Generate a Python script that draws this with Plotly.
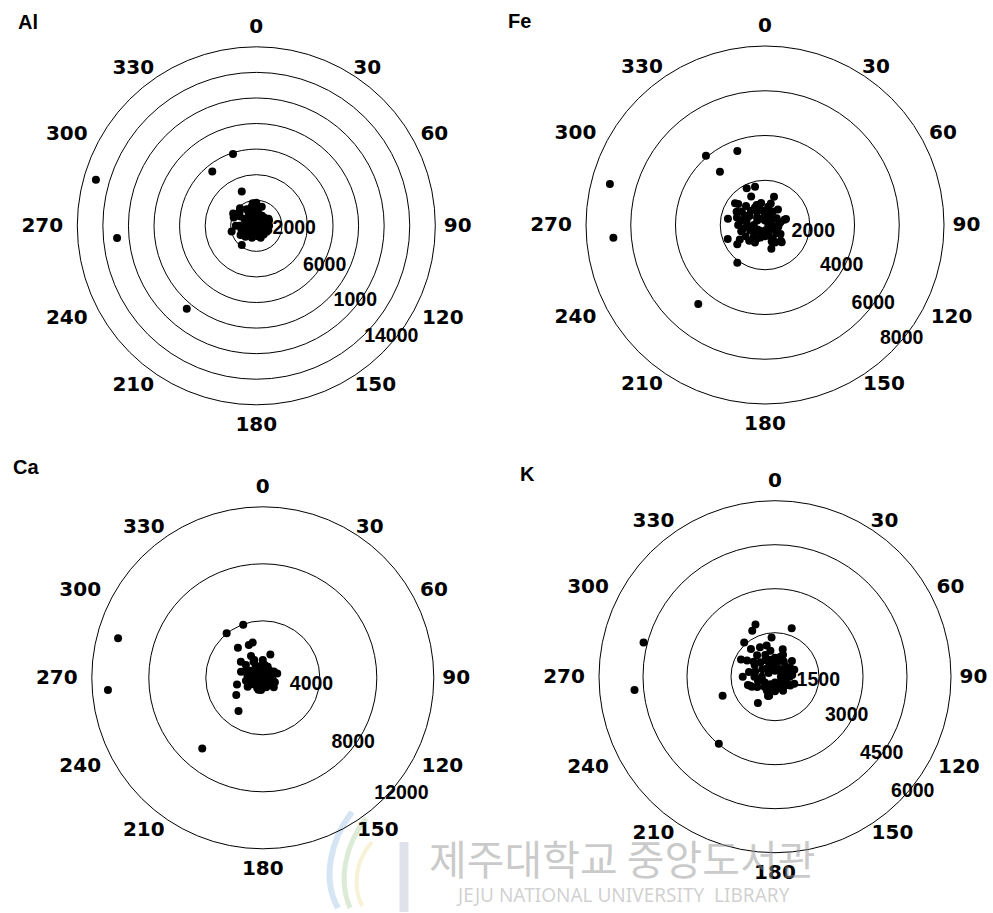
import math
import plotly.graph_objects as go

# ---- data: wind direction (deg) and concentration for each element ----
al_dir = [342, 321, 286, 265, 220, 337, 217,
          298, 257, 240, 67, 120, 351, 16, 317, 290, 330,
          0, 30, 60, 90, 120, 150, 180, 210, 240, 270, 300, 330, 350, 10, 315, 285,
          255, 200, 100, 75, 45, 20, 340, 300, 270, 230, 180, 140, 110, 60, 0, 345,
          280, 190, 120, 160, 90, 270, 310, 0,
          45, 135, 225, 315, 0, 90, 180, 270, 330, 300, 240, 210, 60, 150, 30, 350,
          285, 260, 225, 195, 120, 80]
al_conc = [5900, 5470, 13050, 10930, 8460, 2910, 1885,
           2050, 1980, 1420, 1080, 935, 1780, 1550, 1870, 1880, 1500,
           300, 500, 400, 300, 500, 600, 400, 600, 800, 900, 1100, 1200, 900, 1000, 600, 500,
           1200, 1000, 700, 800, 900, 700, 400, 1500, 1300, 900, 800, 900, 1000, 800, 1300, 1500,
           300, 200, 150, 1000, 1000, 1600, 1700, 1800,
           200, 200, 200, 300, 600, 600, 600, 600, 900, 800, 400, 300, 1100, 300, 900, 1200,
           800, 1000, 1200, 700, 800, 500]

fe_dir = [339.5, 319.6, 319.8, 284.8, 265.2, 220.2, 216.3, 136, 74, 17.6, 235.1, 249.4, 279.7, 333.5, 345.4,
          334, 306, 308, 295, 261, 180, 125, 97, 10, 337.5, 285, 249, 158,
          0, 45, 90, 135, 180, 225, 270, 315, 300, 330, 250, 200, 160, 110, 60, 20,
          350, 280, 240, 210, 150, 120, 80, 40, 315, 295, 265, 225, 190, 10, 340, 100,
          0, 60, 120, 180, 240, 300, 330, 270, 210, 150, 90, 30, 315, 255, 285, 345,
          15, 225, 165, 135, 75, 300, 270, 240]
fe_conc = [3530, 4070, 3120, 7170, 6800, 4620, 2090, 1075, 976, 1330, 1510, 1780, 1680, 1833, 1770,
           1412, 1655, 1520, 1400, 980, 450, 640, 600, 830, 970, 850, 635, 800,
           200, 400, 300, 300, 250, 350, 500, 500, 800, 700, 700, 600, 500, 450, 600, 500,
           1000, 1100, 1000, 900, 900, 800, 700, 900, 1200, 1000, 800, 700, 500, 700, 300, 150,
           500, 300, 400, 500, 400, 400, 900, 800, 700, 700, 600, 700, 900, 1100, 1300, 700,
           1000, 1000, 1100, 1000, 900, 1200, 1200, 1300]

ca_dir = [339.7, 321, 285.3, 265.5, 220.6, 216.3, 237, 255.5, 320.4, 337, 344, 18, 73, 131,
          331.6, 306, 188, 285.6, 307, 334.5, 0, 24, 102, 156, 261, 239.5,
          0, 45, 90, 135, 180, 225, 270, 315, 340, 20, 60, 110, 150, 200, 240, 290, 320,
          300, 250, 350, 10, 70, 160, 210, 280, 330,
          0, 90, 180, 270, 45, 135, 225, 315, 300, 330, 0, 60, 240, 200, 110, 30, 260, 290]
ca_conc = [3960, 4030, 10530, 10900, 6530, 2880, 2220, 1870, 2740, 2510, 2570, 1720, 1060, 1020,
           1743, 1905, 867, 1590, 1485, 1386, 1250, 853, 713, 554, 962, 1232,
           300, 350, 250, 300, 200, 300, 400, 450, 700, 600, 500, 500, 500, 500, 600, 800, 800,
           500, 300, 400, 900, 800, 700, 800, 1100, 1000,
           600, 500, 400, 700, 700, 600, 600, 750, 1000, 1300, 1000, 900, 900, 900, 900, 300, 1200, 1300]

k_dir = [284.6, 264.6, 220, 250, 213, 197, 339.5, 333.6, 19, 318, 355, 333, 319, 15.7, 47, 70, 84, 297,
         253, 246.5, 121, 160, 305, 336, 15, 256,
         0, 30, 60, 90, 120, 150, 180, 210, 240, 270, 300, 330, 315, 345, 285, 255, 225, 195,
         165, 135, 100, 75, 45, 15, 300, 0, 280, 320, 350, 20,
         0, 60, 120, 180, 240, 300, 330, 30, 90, 150, 210, 270, 315, 270, 250, 300, 345, 200, 110, 70]
k_conc = [4630, 4810, 2980, 1900, 1070, 680, 1900, 1745, 1750, 1570, 1338, 1129, 1250, 974, 790, 700, 590, 1300,
          966, 858, 547, 365, 890, 813, 708, 458,
          200, 300, 250, 200, 300, 250, 200, 300, 400, 450, 500, 400, 700, 600, 700, 600, 500, 400,
          400, 450, 400, 450, 500, 550, 250, 450, 900, 950, 900, 800,
          650, 600, 600, 500, 700, 800, 650, 600, 500, 550, 550, 700, 400, 1100, 900, 1100, 1100, 700, 700, 300]

# ring values and their printed labels
al_rings = [2000, 4000, 6000, 8000, 10000, 12000, 14000]
al_ring_labels = ["2000", "6000", "1000", "14000"]
fe_rings = [2000, 4000, 6000, 8000]
fe_ring_labels = ["2000", "4000", "6000", "8000"]
ca_rings = [4000, 8000, 12000]
ca_ring_labels = ["4000", "8000", "12000"]
k_rings = [1500, 3000, 4500, 6000]
k_ring_labels = ["1500", "3000", "4500", "6000"]

angle_ticks = list(range(0, 360, 30))
angle_labels = [str(a) for a in angle_ticks]

# ---- layout ----
W, H = 993, 913
PAD = 1.22  # radial headroom beyond the outer ring, room for the direction labels

# pixel offset of each direction label's centre from the outer ring
ANGLE_LABEL_OFFSET = {0: (0, -18.5), 30: (21.5, -2), 60: (23, -1), 90: (22.5, 1.5),
                      120: (31.5, 3.5), 150: (29.5, 5), 180: (0, 21), 210: (-33.5, 5),
                      240: (-34.5, 3.5), 270: (-35, 1.5), 300: (-34.5, -1), 330: (-33.5, -2)}


def domain(cx, cy, rad):
    rr = rad * PAD
    return dict(x=[(cx - rr) / W, (cx + rr) / W],
                y=[1 - (cy + rr) / H, 1 - (cy - rr) / H])


def label_polar(angle, rad, rmax):
    """Polar position (r, theta) of a direction label, ring radius rad px."""
    ox, oy = ANGLE_LABEL_OFFSET[angle]
    b = math.radians(angle)
    x = rad * math.sin(b) + ox
    y = -rad * math.cos(b) + oy
    return math.hypot(x, y) * rmax / rad, math.degrees(math.atan2(x, -y)) % 360


panels = [
    # name, dirs, concs, rings, ring labels, ring label spots (r, theta), ring px, title px
    ("Al", al_dir, al_conc, al_rings, al_ring_labels,
     [(2980, 94.5), (6220, 120.8), (9750, 127.4), (13700, 129.6)], (256.3, 225.8, 179), (28, 22)),
    ("Fe", fe_dir, fe_conc, fe_rings, fe_ring_labels,
     [(2180, 97.9), (3880, 118), (5990, 126.1), (7965, 129.9)], (765, 225, 179), (519, 21)),
    ("Ca", ca_dir, ca_conc, ca_rings, ca_ring_labels,
     [(3455, 98.5), (7840, 126), (12700, 130)], (262.8, 677.8, 171), (25.5, 467)),
    ("K", k_dir, k_conc, k_rings, k_ring_labels,
     [(1483, 95.3), (2795, 119), (4487, 125.8), (6131, 130)], (775, 676.7, 176), (527, 474)),
]

fig = go.Figure()
layout_polars = {}
annotations = []

for i, (name, dirs, concs, rings, labels, lab_pos, (cx, cy, rad), (tx, ty)) in enumerate(panels):
    key = "polar" if i == 0 else f"polar{i + 1}"
    rmax = rings[-1]
    fig.add_trace(go.Scatterpolar(
        r=concs, theta=dirs, mode="markers", subplot=key,
        marker=dict(color="black", size=8, line=dict(width=0)),
        showlegend=False, hoverinfo="skip"))
    # concentration labels beside the rings
    fig.add_trace(go.Scatterpolar(
        r=[p[0] for p in lab_pos], theta=[p[1] for p in lab_pos],
        text=labels, mode="text", subplot=key, cliponaxis=False,
        textfont=dict(family="Liberation Sans, Arial", size=19.5, color="black", weight="bold"),
        textposition="middle center", showlegend=False, hoverinfo="skip"))
    # direction labels around the outer ring
    spots = [label_polar(a, rad, rmax) for a in angle_ticks]
    fig.add_trace(go.Scatterpolar(
        r=[s[0] for s in spots], theta=[s[1] for s in spots],
        text=angle_labels, mode="text", subplot=key, cliponaxis=False,
        textfont=dict(family="DejaVu Sans", size=20, color="black", weight="bold"),
        textposition="middle center", showlegend=False, hoverinfo="skip"))
    layout_polars[key] = dict(
        domain=domain(cx, cy, rad),
        bgcolor="rgba(0,0,0,0)",
        angularaxis=dict(
            rotation=90, direction="clockwise",
            showticklabels=False, ticks="",
            showgrid=False, showline=False,
        ),
        radialaxis=dict(
            range=[0, rmax * PAD], tickmode="array", tickvals=rings,
            showticklabels=False, ticks="", showline=False,
            showgrid=True, gridcolor="black", gridwidth=1,
        ),
    )
    annotations.append(dict(
        text=name, x=tx / W, y=1 - ty / H, xref="paper", yref="paper",
        xanchor="center", yanchor="middle", showarrow=False,
        font=dict(family="Liberation Sans, Arial", size=20, color="black", weight="bold")))

# library watermark
annotations.append(dict(
    text="제주대학교 중앙도서관", x=622 / W, y=1 - 857 / H, xref="paper", yref="paper",
    xanchor="center", yanchor="middle", showarrow=False,
    font=dict(family="Noto Sans CJK KR", size=41, color="rgba(150,150,150,0.5)")))
annotations.append(dict(
    text="JEJU NATIONAL UNIVERSITY  LIBRARY", x=623 / W, y=1 - 895 / H,
    xref="paper", yref="paper", xanchor="center", yanchor="middle", showarrow=False,
    font=dict(family="Noto Sans", size=19, color="rgba(150,150,150,0.45)")))

fig.update_layout(
    width=W, height=H, margin=dict(l=0, r=0, t=0, b=0),
    paper_bgcolor="white", plot_bgcolor="white",
    annotations=annotations, **layout_polars)

# faint library emblem, strokes given in page pixels
emblem = [
    ([(338, 908), (322, 880), (330, 840), (352, 812)], "rgba(120,170,220,0.3)", 6),
    ([(350, 908), (338, 880), (345, 845), (366, 818)], "rgba(140,190,120,0.3)", 5),
    ([(362, 906), (352, 885), (356, 860), (372, 842)], "rgba(230,210,120,0.3)", 4),
    ([(404, 842), (404, 912)], "rgba(150,160,190,0.3)", 9),
]
for pts, col, wid in emblem:
    p = [(x / W, 1 - y / H) for x, y in pts]
    if len(p) == 4:
        path = (f"M {p[0][0]},{p[0][1]} C {p[1][0]},{p[1][1]} "
                f"{p[2][0]},{p[2][1]} {p[3][0]},{p[3][1]}")
    else:
        path = f"M {p[0][0]},{p[0][1]} L {p[1][0]},{p[1][1]}"
    fig.add_shape(type="path", xref="paper", yref="paper", path=path,
                  line=dict(color=col, width=wid), layer="below")

fig.write_html("out.html")
